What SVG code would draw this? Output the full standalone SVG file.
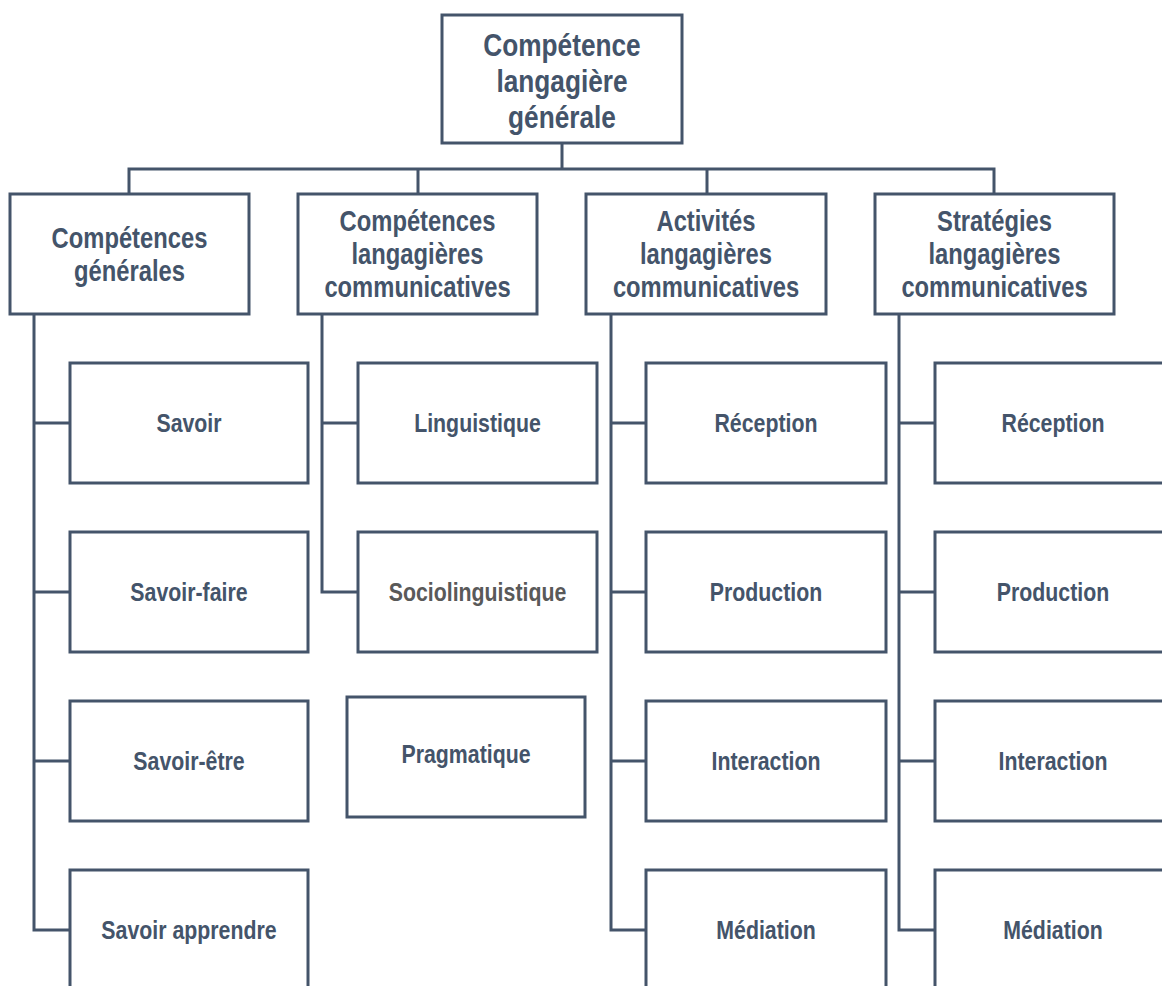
<svg xmlns="http://www.w3.org/2000/svg" width="1162" height="986" viewBox="0 0 1162 986">
<style>
.box{fill:#ffffff;stroke:#44546A;stroke-width:3}
.ln{fill:none;stroke:#44546A;stroke-width:3}
text{font-family:"Liberation Sans Narrow","Arial Narrow","Liberation Sans",Arial,sans-serif;font-weight:bold;fill:#44546A;text-anchor:middle}
.t0{font-size:32px}
.t1{font-size:29px}
.t2{font-size:26px}
.grey{fill:#595959}
</style>
<rect width="1162" height="986" fill="#ffffff"/>
<g id="connectors">
<path class="ln" d="M562,143 V169 M129,194 V169 H994 V194 M418,169 V194 M707,169 V194"/>
<path class="ln" d="M34,314 V930 H70 M34,423 H70 M34,592 H70 M34,761 H70"/>
<path class="ln" d="M322,314 V592 H358 M322,423 H358"/>
<path class="ln" d="M611,314 V930 H646 M611,423 H646 M611,592 H646 M611,761 H646"/>
<path class="ln" d="M899,314 V930 H935 M899,423 H935 M899,592 H935 M899,761 H935"/>
</g>
<g id="root">
<rect class="box" x="442" y="15" width="240" height="128"/>
<g transform="scale(0.82,1)">
<text class="t0" x="685.37" y="56">Compétence</text>
<text class="t0" x="685.37" y="92">langagière</text>
<text class="t0" x="685.37" y="128">générale</text>
</g>
</g>
<g id="comp-generales">
<rect class="box" x="10" y="194" width="239" height="120"/>
<g transform="scale(0.82,1)">
<text class="t1" x="157.93" y="248">Compétences</text>
<text class="t1" x="157.93" y="281">générales</text>
</g>
</g>
<g id="comp-lang-comm">
<rect class="box" x="298" y="194" width="239" height="120"/>
<g transform="scale(0.82,1)">
<text class="t1" x="509.15" y="231">Compétences</text>
<text class="t1" x="509.15" y="264">langagières</text>
<text class="t1" x="509.15" y="297">communicatives</text>
</g>
</g>
<g id="activites">
<rect class="box" x="586" y="194" width="240" height="120"/>
<g transform="scale(0.82,1)">
<text class="t1" x="860.98" y="231">Activités</text>
<text class="t1" x="860.98" y="264">langagières</text>
<text class="t1" x="860.98" y="297">communicatives</text>
</g>
</g>
<g id="strategies">
<rect class="box" x="875" y="194" width="239" height="120"/>
<g transform="scale(0.82,1)">
<text class="t1" x="1212.8" y="231">Stratégies</text>
<text class="t1" x="1212.8" y="264">langagières</text>
<text class="t1" x="1212.8" y="297">communicatives</text>
</g>
</g>
<g id="savoir"><rect class="box" x="70" y="363" width="238" height="120"/><text class="t2" transform="scale(0.82,1)" x="230.49" y="432">Savoir</text></g>
<g id="savoir-faire"><rect class="box" x="70" y="532" width="238" height="120"/><text class="t2" transform="scale(0.82,1)" x="230.49" y="601">Savoir-faire</text></g>
<g id="savoir-etre"><rect class="box" x="70" y="701" width="238" height="120"/><text class="t2" transform="scale(0.82,1)" x="230.49" y="770">Savoir-être</text></g>
<g id="savoir-apprendre"><rect class="box" x="70" y="870" width="238" height="130"/><text class="t2" transform="scale(0.82,1)" x="230.49" y="939">Savoir apprendre</text></g>
<g id="linguistique"><rect class="box" x="358" y="363" width="239" height="120"/><text class="t2" transform="scale(0.82,1)" x="582.32" y="432">Linguistique</text></g>
<g id="sociolinguistique"><rect class="box" x="358" y="532" width="239" height="120"/><text class="t2 grey" transform="scale(0.82,1)" x="582.32" y="601">Sociolinguistique</text></g>
<g id="pragmatique"><rect class="box" x="347" y="697" width="238" height="120"/><text class="t2" transform="scale(0.82,1)" x="568.29" y="763">Pragmatique</text></g>
<g id="act-reception"><rect class="box" x="646" y="363" width="240" height="120"/><text class="t2" transform="scale(0.82,1)" x="934.15" y="432">Réception</text></g>
<g id="act-production"><rect class="box" x="646" y="532" width="240" height="120"/><text class="t2" transform="scale(0.82,1)" x="934.15" y="601">Production</text></g>
<g id="act-interaction"><rect class="box" x="646" y="701" width="240" height="120"/><text class="t2" transform="scale(0.82,1)" x="934.15" y="770">Interaction</text></g>
<g id="act-mediation"><rect class="box" x="646" y="870" width="240" height="130"/><text class="t2" transform="scale(0.82,1)" x="934.15" y="939">Médiation</text></g>
<g id="str-reception"><rect class="box" x="935" y="363" width="240" height="120"/><text class="t2" transform="scale(0.82,1)" x="1284.15" y="432">Réception</text></g>
<g id="str-production"><rect class="box" x="935" y="532" width="240" height="120"/><text class="t2" transform="scale(0.82,1)" x="1284.15" y="601">Production</text></g>
<g id="str-interaction"><rect class="box" x="935" y="701" width="240" height="120"/><text class="t2" transform="scale(0.82,1)" x="1284.15" y="770">Interaction</text></g>
<g id="str-mediation"><rect class="box" x="935" y="870" width="240" height="130"/><text class="t2" transform="scale(0.82,1)" x="1284.15" y="939">Médiation</text></g>
</svg>
